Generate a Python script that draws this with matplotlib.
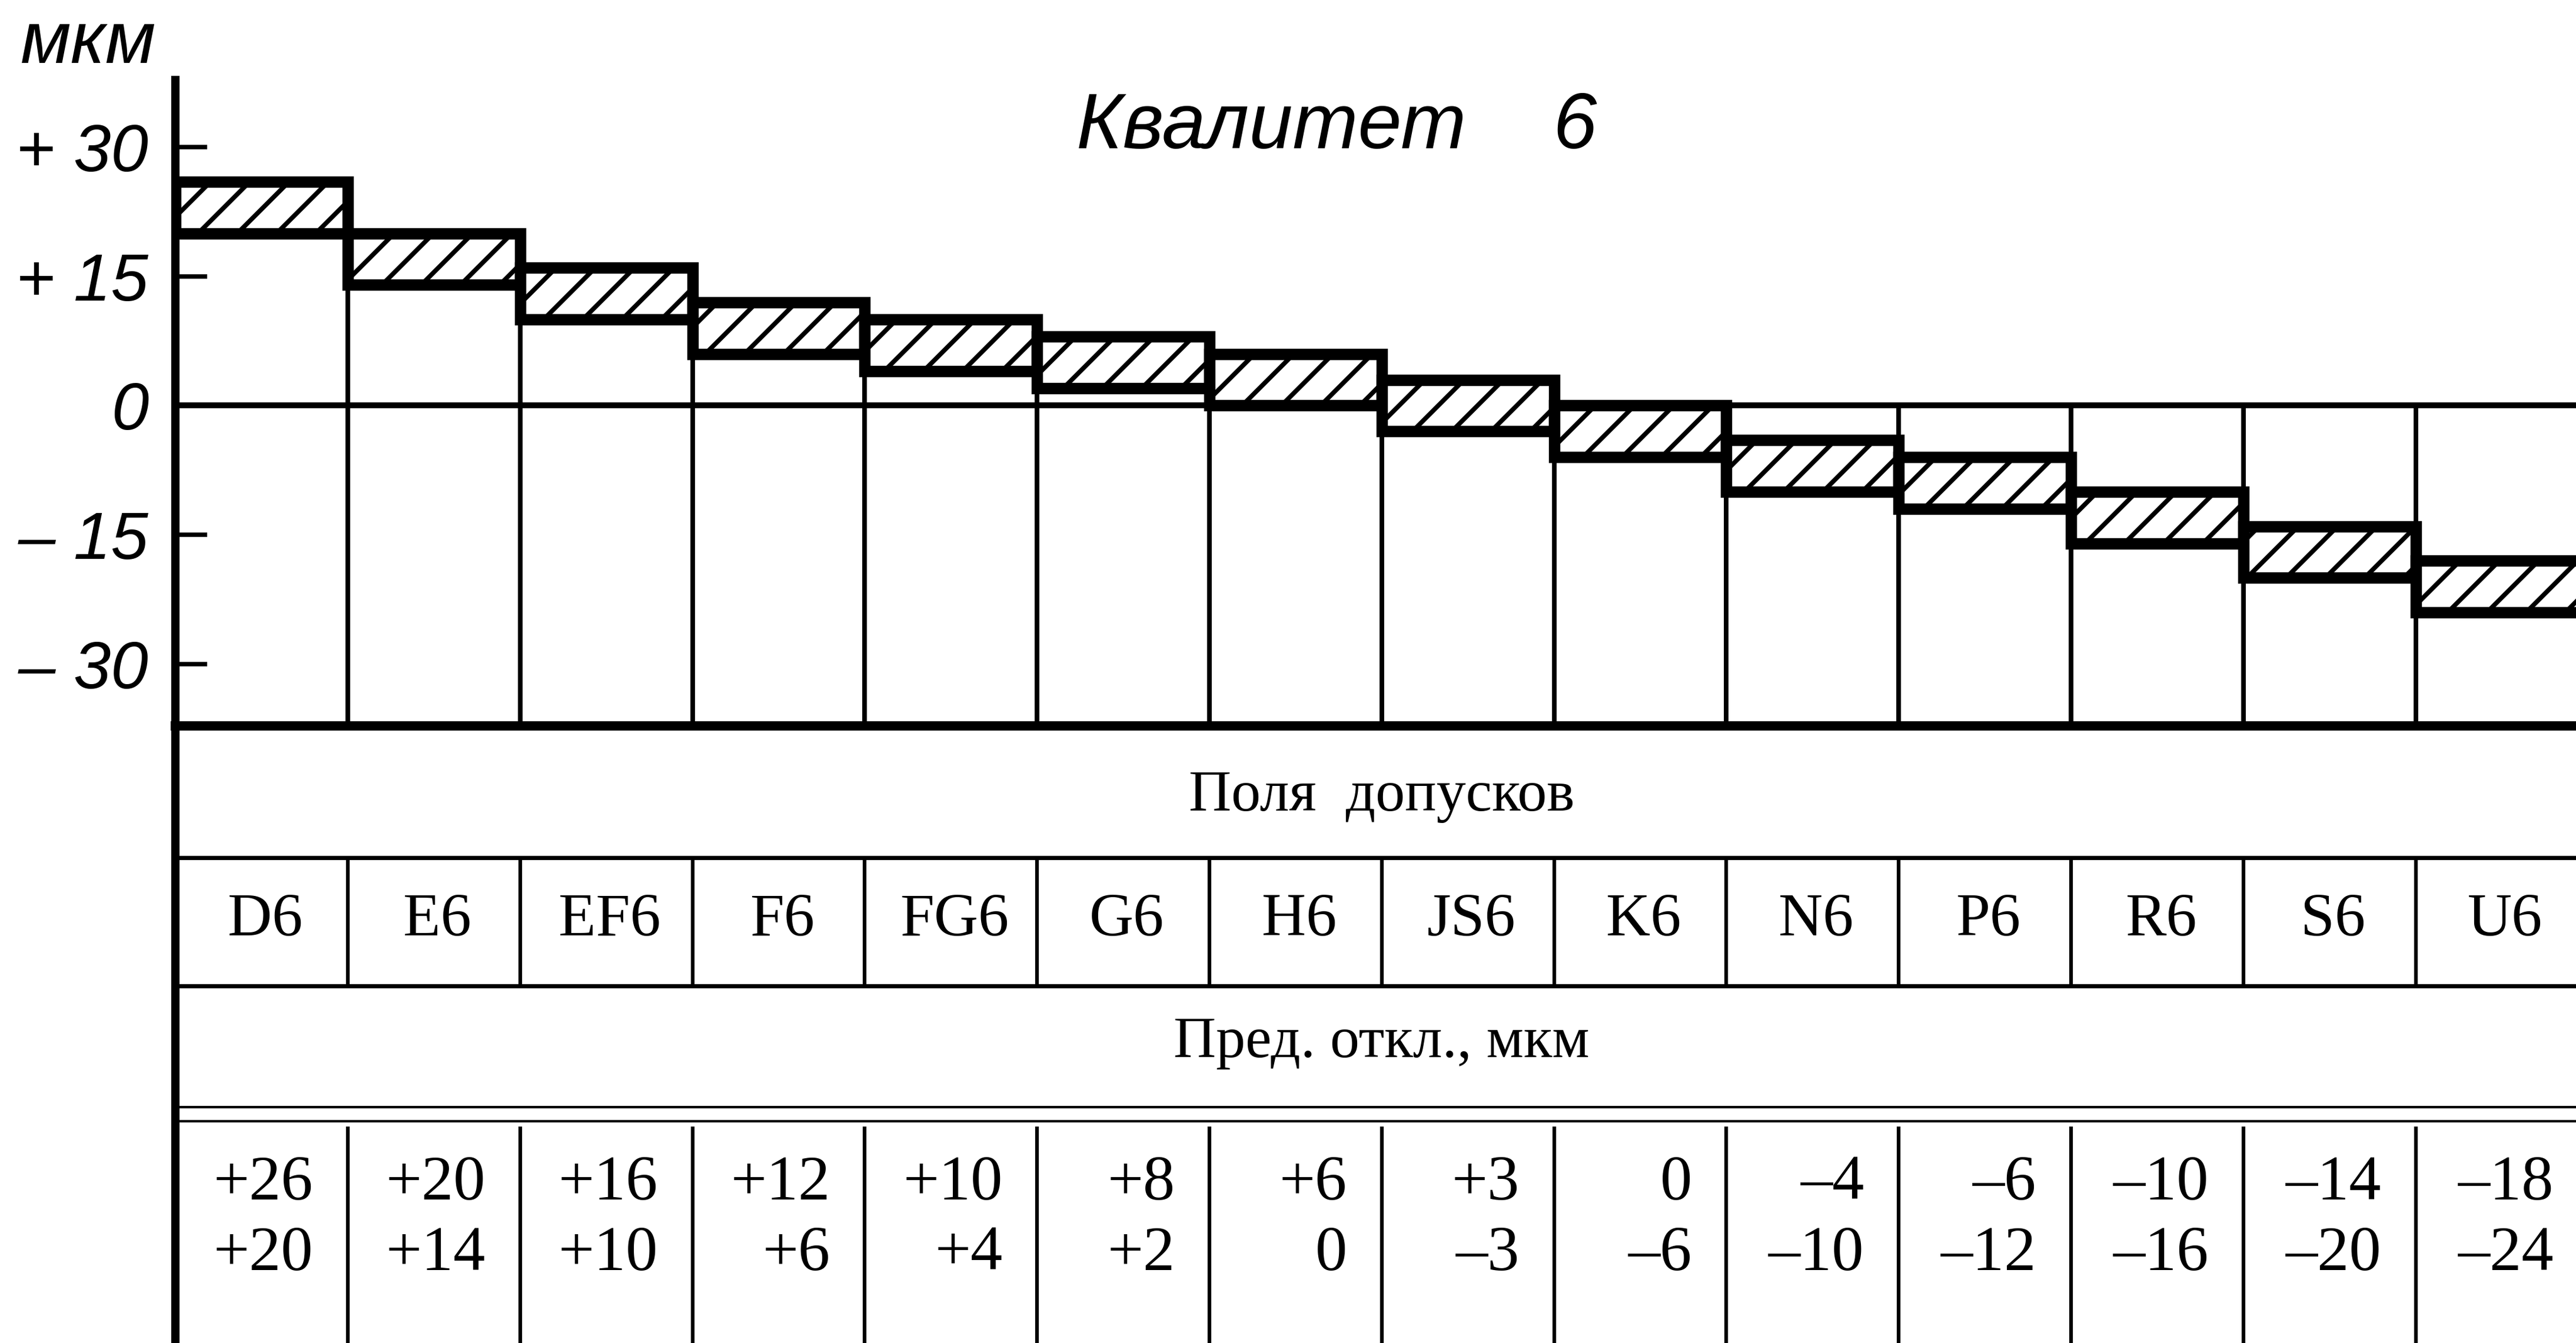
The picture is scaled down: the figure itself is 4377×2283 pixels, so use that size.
import matplotlib
matplotlib.use('Agg')
import matplotlib.pyplot as plt
from matplotlib.patches import Rectangle

# поля допусков, квалитет 6 (верхнее / нижнее отклонение, мкм)
fields = ['D6', 'E6', 'EF6', 'F6', 'FG6', 'G6', 'H6', 'JS6', 'K6', 'N6', 'P6', 'R6', 'S6', 'U6']
upper = [26, 20, 16, 12, 10, 8, 6, 3, 0, -4, -6, -10, -14, -18]
lower = [20, 14, 10, 6, 4, 2, 0, -3, -6, -10, -12, -16, -20, -24]
yticks = [30, 15, 0, -15, -30]
ytick_labels = ['+ 30', '+ 15', '0', '\u2013 15', '\u2013 30']

HAND = ['Liberation Sans', 'DejaVu Sans']
SERIF = ['Liberation Serif', 'DejaVu Serif']


def dev(v):
    if v > 0:
        return f'+{v}'
    if v < 0:
        return f'\u2013{-v}'
    return '0'


# dpi 200 so that the '/' hatch gets the spacing of the drawing
plt.rcParams['hatch.linewidth'] = 2.8
fig = plt.figure(figsize=(4377 / 200, 2283 / 200), dpi=200)

# chart part
ax = fig.add_axes([0.0681, 0.4595, 0.9319, 0.4809])
n = len(fields)
x_right = 13.93
ybot, ytop = -37.17, 37.78
ax.set_xlim(0, x_right)
ax.set_ylim(ybot, ytop)

for i in range(n):
    top = max(upper[i], 0)
    ax.add_patch(Rectangle((i, ybot), 1, top - ybot, fill=False, lw=2.7, ec='k', zorder=1))
ax.axhline(0, color='k', lw=3.6, zorder=2)
for i in range(n):
    ax.add_patch(Rectangle((i, lower[i]), 1, upper[i] - lower[i], facecolor='white',
                           hatch='/', edgecolor='k', lw=7.0, zorder=3))

ax.axhline(ybot, color='k', lw=5.7, clip_on=False, zorder=4)
ax.axvline(0, color='k', lw=5.1, clip_on=False, zorder=4)
for s in ax.spines.values():
    s.set_visible(False)
ax.set_xticks([])
ax.set_yticks(yticks, ytick_labels)
ax.tick_params(axis='y', direction='in', length=19.5, width=2.7, pad=16.5, labelsize=41)
for lab in ax.get_yticklabels():
    lab.set_fontfamily(HAND)
    lab.set_fontstyle('italic')

ax.text(6.74, 32.2, 'Квалитет    6', ha='center', va='center', fontsize=48,
        family=HAND, style='italic')
fig.text(150 / 4377, 1 - 75 / 2283, 'мкм', ha='center', va='center', fontsize=45,
         family=HAND, style='italic')

# table part
tb = fig.add_axes([0.0681, 0.0, 0.9319, 0.4595])
tb.set_xlim(0, x_right)
tb.set_ylim(1049, 0)
tb.axis('off')

tb.hlines([224, 442], 0, x_right, color='k', lw=2.55)
tb.hlines([648, 672], 0, x_right, color='k', lw=1.5)
tb.vlines(range(1, n), 224, 442, color='k', lw=2.25)
tb.vlines(range(1, n), 681, 1049, color='k', lw=2.25)
tb.vlines(0, 0, 1049, color='k', lw=5.1, clip_on=False)

tb.text(n / 2, 120, 'Поля  допусков', ha='center', va='center', fontsize=36, family=SERIF)
tb.text(n / 2, 539, 'Пред. откл., мкм', ha='center', va='center', fontsize=36, family=SERIF)
for i in range(n):
    tb.text(i + 0.52, 356, fields[i], ha='center', va='baseline', fontsize=37.5, family=SERIF)
    tb.text(i + 0.8, 805, dev(upper[i]), ha='right', va='baseline', fontsize=39, family=SERIF)
    tb.text(i + 0.8, 925, dev(lower[i]), ha='right', va='baseline', fontsize=39, family=SERIF)

fig.savefig('out.png', dpi=200, facecolor='white')
